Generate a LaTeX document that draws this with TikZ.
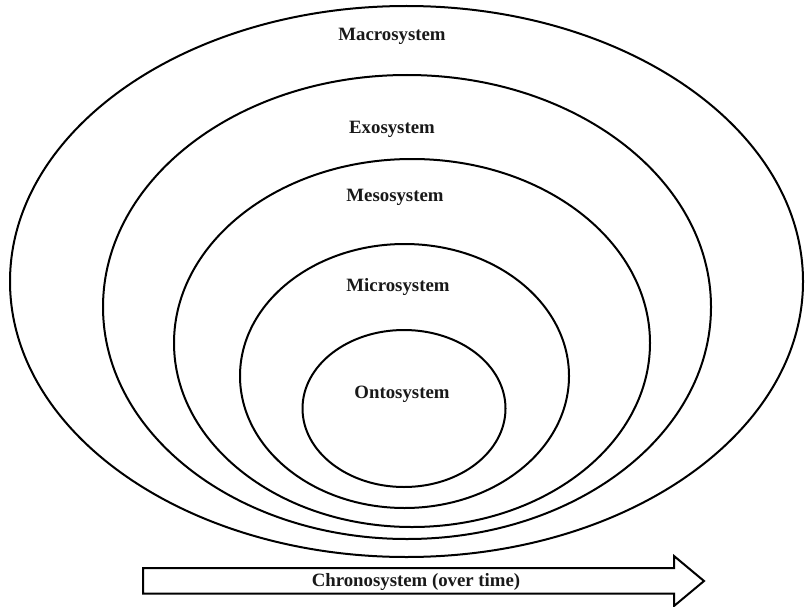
\documentclass[tikz,border=0pt]{standalone}
\usepackage{fontspec}
\setmainfont{Liberation Serif}
\usetikzlibrary{shapes.geometric}
\begin{document}
\begin{tikzpicture}[x=1pt,y=-1pt,
  ring/.style={draw=black,line width=2pt,ellipse,inner sep=0pt},
  lbl/.style={font=\fontsize{18.8}{22}\selectfont\bfseries,inner sep=0pt,text=black!90},
  arrowbox/.style={draw=black,line width=2pt,fill=white,line join=miter}]
\useasboundingbox[fill=white] (0,0) rectangle (805,607);
\node[ring,minimum width=793pt,minimum height=551pt] (macro) at (406.5,281.5) {};
\node[ring,minimum width=608pt,minimum height=464pt] (exo) at (407,307) {};
\node[ring,minimum width=476pt,minimum height=368pt] (meso) at (412,343) {};
\node[ring,minimum width=329pt,minimum height=264pt] (micro) at (404.5,376) {};
\node[ring,minimum width=203pt,minimum height=157pt] (onto) at (404,408.5) {};
\node[lbl] (lmacro) at (392,36) {Macrosystem};
\node[lbl] (lexo) at (392,129) {Exosystem};
\node[lbl] (lmeso) at (395,197.5) {Mesosystem};
\node[lbl] (lmicro) at (398,287) {Microsystem};
\node[lbl] (lonto) at (402,394) {Ontosystem};
\draw[arrowbox] (143,568) -- (674,568) -- (674,556) -- (704,581) -- (674,606) -- (674,593.5) -- (143,593.5) -- cycle;
\node[lbl] (lchrono) at (416,582) {Chronosystem (over time)};
\end{tikzpicture}
\end{document}
